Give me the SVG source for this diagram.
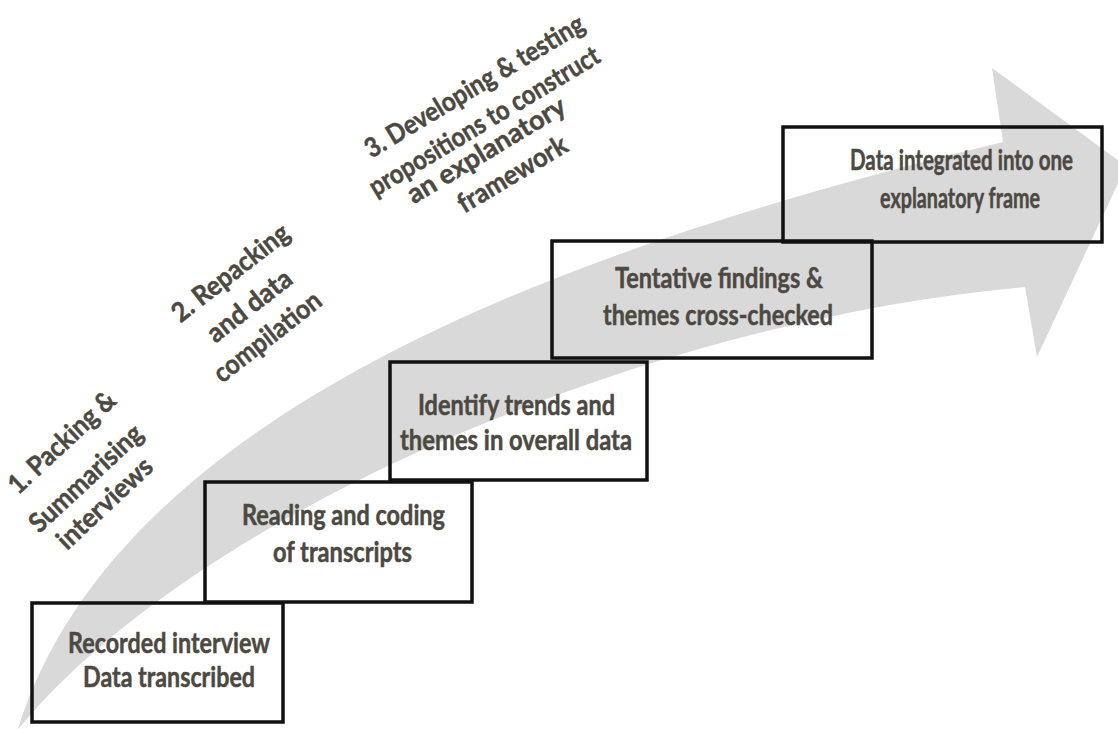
<svg xmlns="http://www.w3.org/2000/svg" width="1118" height="729" viewBox="0 0 1118 729">
<style>
.box{fill:none;stroke:#111;stroke-width:3.5}
.t{font-family:Lato,"Open Sans","Liberation Sans",sans-serif;font-weight:bold;font-size:28px;fill:#4c4942;stroke:#4c4942;stroke-width:0.5;text-anchor:middle}
.r{font-family:Lato,"Open Sans","Liberation Sans",sans-serif;font-weight:bold;font-size:27px;fill:#4c4942;stroke:#4c4942;stroke-width:0.5;text-anchor:middle}
</style>
<rect width="1118" height="729" fill="#fff"/>
<g id="progress-arrow">
<path d="M18,729 C120,400 600,240 1003,142 L992,68 L1126,166 L1037,357 L1025,287 C650,320 200,510 20,727 Z" fill="#d9d9d9"/>
</g>
<g id="stage-labels">
<g id="stage1">
<text class="r" transform="translate(68,449) rotate(-43)" textLength="136" lengthAdjust="spacingAndGlyphs">1. Packing &amp;</text>
<text class="r" transform="translate(92,485) rotate(-43)" textLength="144" lengthAdjust="spacingAndGlyphs">Summarising</text>
<text class="r" transform="translate(111,510) rotate(-43)" textLength="120" lengthAdjust="spacingAndGlyphs">interviews</text>
</g>
<g id="stage2">
<text class="r" transform="translate(236,280) rotate(-38)" textLength="141" lengthAdjust="spacingAndGlyphs">2. Repacking</text>
<text class="r" transform="translate(255,313) rotate(-38)" textLength="100" lengthAdjust="spacingAndGlyphs">and data</text>
<text class="r" transform="translate(273,344) rotate(-38)" textLength="129" lengthAdjust="spacingAndGlyphs">compilation</text>
</g>
<g id="stage3">
<text class="r" transform="translate(479,94) rotate(-31)" textLength="251" lengthAdjust="spacingAndGlyphs">3. Developing &amp; testing</text>
<text class="r" transform="translate(489,129) rotate(-31)" textLength="264" lengthAdjust="spacingAndGlyphs">propositions to construct</text>
<text class="r" transform="translate(491,158) rotate(-31)" textLength="180" lengthAdjust="spacingAndGlyphs">an explanatory</text>
<text class="r" transform="translate(517,182) rotate(-31)" textLength="123" lengthAdjust="spacingAndGlyphs">framework</text>
</g>
</g>
<g id="step1">
<rect class="box" x="32" y="603" width="251" height="119"/>
<text class="t" x="169" y="653" textLength="202" lengthAdjust="spacingAndGlyphs">Recorded interview</text>
<text class="t" x="169" y="687" textLength="172" lengthAdjust="spacingAndGlyphs">Data transcribed</text>
</g>
<g id="step2">
<rect class="box" x="205" y="482" width="267" height="120"/>
<text class="t" x="343.5" y="525" textLength="203" lengthAdjust="spacingAndGlyphs">Reading and coding</text>
<text class="t" x="342.5" y="562" textLength="139" lengthAdjust="spacingAndGlyphs">of transcripts</text>
</g>
<g id="step3">
<rect class="box" x="390" y="362" width="257" height="118"/>
<text class="t" x="516.5" y="415" textLength="197" lengthAdjust="spacingAndGlyphs">Identify trends and</text>
<text class="t" x="516" y="450" textLength="232" lengthAdjust="spacingAndGlyphs">themes in overall data</text>
</g>
<g id="step4">
<rect class="box" x="552" y="241" width="320" height="117"/>
<text class="t" x="719" y="288" textLength="208" lengthAdjust="spacingAndGlyphs">Tentative findings &amp;</text>
<text class="t" x="718" y="325" textLength="230" lengthAdjust="spacingAndGlyphs">themes cross-checked</text>
</g>
<g id="step5">
<rect class="box" x="783" y="127" width="319" height="115"/>
<text class="t" x="961.5" y="170" textLength="223" lengthAdjust="spacingAndGlyphs">Data integrated into one</text>
<text class="t" x="960" y="208" textLength="160" lengthAdjust="spacingAndGlyphs">explanatory frame</text>
</g>
</svg>
